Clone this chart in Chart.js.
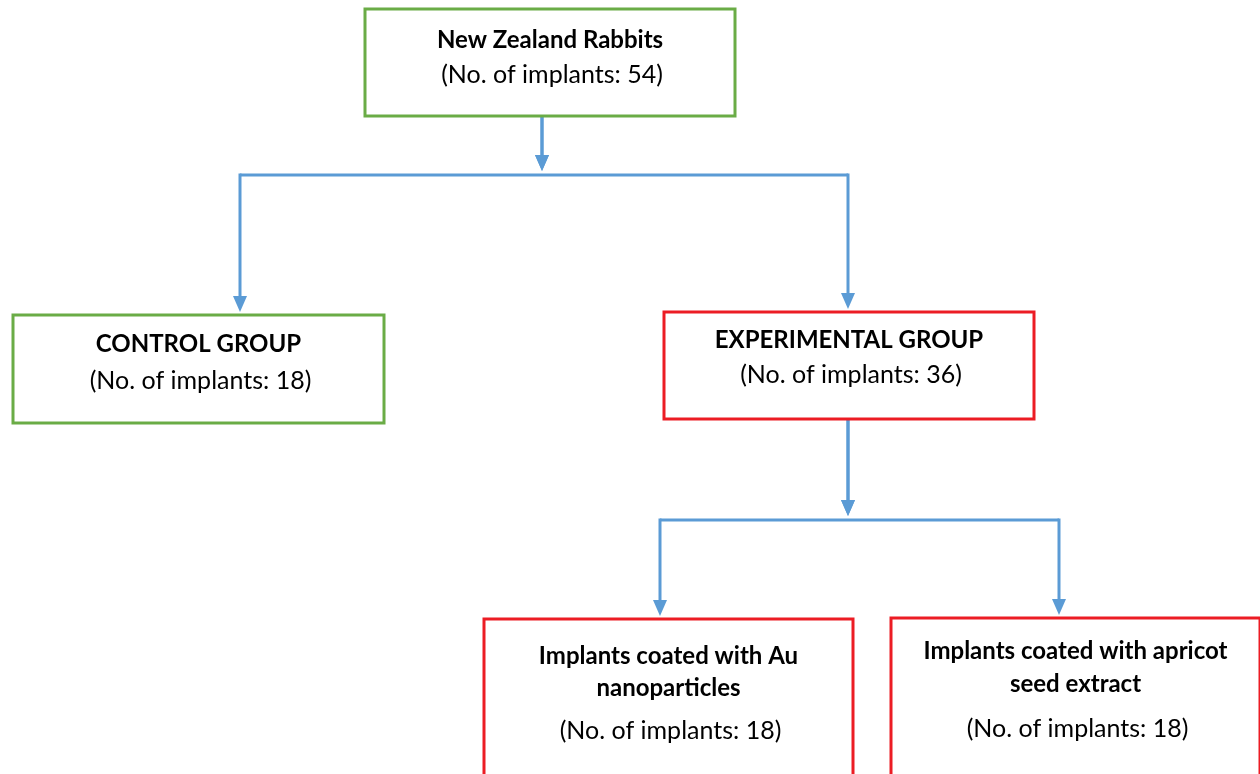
<!DOCTYPE html>
<html lang="en">
<head>
    <meta charset="UTF-8">
    <script src="https://cdn.jsdelivr.net/npm/chart.js"></script>
    <title>Study design</title>
    <style>
        html, body { margin: 0; padding: 0; background: #ffffff; }
        #wrap { width: 1260px; height: 774px; }
    </style>
</head>
<body>
    <div id="wrap"><canvas id="flowChart"></canvas></div>
    <script>
        // Node contents
        const nodeTitles = [
            ['New Zealand Rabbits'],
            ['CONTROL GROUP'],
            ['EXPERIMENTAL GROUP'],
            ['Implants coated with Au', 'nanoparticles'],
            ['Implants coated with apricot', 'seed extract']
        ];
        const implantCounts = [54, 18, 36, 18, 18];
        const nodeGroup = ['control', 'control', 'experimental', 'experimental', 'experimental'];
        const parentOf = [-1, 0, 0, 2, 2];

        // layout (page pixels) - kept apart from the data
        const boxLeft   = [365, 13, 664, 484, 891];
        const boxTop    = [9, 315, 312, 619, 618];
        const boxWidth  = [370, 371, 370, 369, 369];
        const boxHeight = [107, 108, 107, 170, 170];
        const dropX     = [542, 240, 848, 660, 1059];   // where the arrow enters / leaves each box
        const busY      = [175, null, 520, null, null];   // horizontal split line under a parent
        const titleY    = [[40], [344], [340], [656, 688], [651, 684]];
        const countY    = [75, 381, 375, 731, 729];

        const colors = { control: '#6aac46', experimental: '#ec1c24', line: '#5b9bd5' };

        const flowPlugin = {
            id: 'flow',
            afterDraw(chart) {
                const ctx = chart.ctx;
                const xs = chart.scales.x, ys = chart.scales.y;
                const px = v => xs.getPixelForValue(v);
                const py = v => ys.getPixelForValue(v);

                ctx.save();
                // connectors
                ctx.strokeStyle = colors.line;
                ctx.fillStyle = colors.line;
                ctx.lineWidth = 3;
                ctx.lineCap = 'butt';
                function arrowHead(x, tipY) {
                    ctx.beginPath();
                    ctx.moveTo(px(x) - 7, py(tipY - 16));
                    ctx.lineTo(px(x) + 7, py(tipY - 16));
                    ctx.lineTo(px(x), py(tipY));
                    ctx.closePath();
                    ctx.fill();
                }
                parentOf.forEach((p, i) => {
                    if (p < 0) return;
                    const bottom = boxTop[p] + boxHeight[p];
                    const by = busY[p];
                    // stem from parent to bus, with arrow
                    ctx.beginPath();
                    ctx.moveTo(px(dropX[p]), py(bottom));
                    ctx.lineTo(px(dropX[p]), py(by - 10));
                    ctx.stroke();
                    arrowHead(dropX[p], by - 4);
                    // bus segment
                    ctx.beginPath();
                    ctx.moveTo(px(dropX[p]), py(by));
                    ctx.lineTo(px(dropX[i]), py(by));
                    ctx.stroke();
                    // drop to child
                    ctx.beginPath();
                    ctx.moveTo(px(dropX[i]), py(by - 1.5));
                    ctx.lineTo(px(dropX[i]), py(boxTop[i] - 14));
                    ctx.stroke();
                    arrowHead(dropX[i], boxTop[i] - 3);
                });

                // boxes
                nodeTitles.forEach((lines, i) => {
                    ctx.strokeStyle = colors[nodeGroup[i]];
                    ctx.lineWidth = 3;
                    const x0 = px(boxLeft[i]), y0 = py(boxTop[i]);
                    const x1 = px(boxLeft[i] + boxWidth[i]), y1 = py(boxTop[i] + boxHeight[i]);
                    ctx.fillStyle = '#ffffff';
                    ctx.fillRect(x0, y0, x1 - x0, y1 - y0);
                    ctx.strokeRect(x0, y0, x1 - x0, y1 - y0);

                    const cx = (x0 + x1) / 2;
                    ctx.fillStyle = '#000000';
                    ctx.textAlign = 'center';
                    ctx.textBaseline = 'middle';
                    ctx.font = 'bold 24px Lato, "Noto Sans", sans-serif';
                    lines.forEach((t, k) => ctx.fillText(t, cx, py(titleY[i][k])));
                    ctx.font = '25px Lato, "Noto Sans", sans-serif';
                    ctx.fillText('(No. of implants: ' + implantCounts[i] + ')', cx + 2, py(countY[i]));
                });
                ctx.restore();
            }
        };

        new Chart(document.getElementById('flowChart'), {
            type: 'scatter',
            data: {
                datasets: [{
                    label: 'nodes',
                    data: nodeTitles.map((t, i) => ({ x: boxLeft[i] + boxWidth[i] / 2, y: boxTop[i] + boxHeight[i] / 2 })),
                    pointRadius: 0
                }]
            },
            options: {
                responsive: true,
                maintainAspectRatio: false,
                animation: false,
                layout: { padding: 0 },
                plugins: { legend: { display: false }, tooltip: { enabled: false } },
                scales: {
                    x: { type: 'linear', min: 0, max: 1260, display: false },
                    y: { type: 'linear', min: 0, max: 774, reverse: true, display: false }
                }
            },
            plugins: [flowPlugin]
        });
    </script>
</body>
</html>
